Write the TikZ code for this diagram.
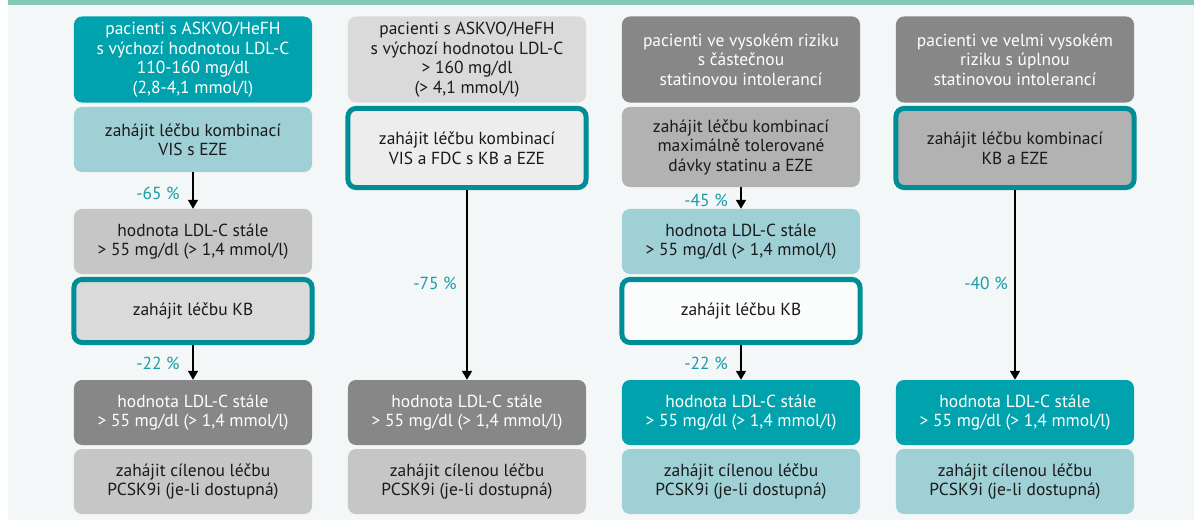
\documentclass[tikz,border=0pt]{standalone}
\usepackage{fontspec}
\setmainfont{PT Sans}
\usepackage{xcolor}
\usepackage{tikz}
\usetikzlibrary{arrows.meta,positioning}

\definecolor{topbar}{HTML}{85C8B8}
\definecolor{pagebg}{HTML}{F4F7F7}
\definecolor{tealdark}{HTML}{00A3AD}
\definecolor{teallight}{HTML}{9FD0D6}
\definecolor{tealline}{HTML}{008E96}
\definecolor{tealtext}{HTML}{1A9BA6}
\definecolor{graydark}{HTML}{878787}
\definecolor{graymid}{HTML}{B2B2B2}
\definecolor{graysoft}{HTML}{C6C6C6}
\definecolor{graylight}{HTML}{DADADA}
\definecolor{grayfaint}{HTML}{EDEDED}
\definecolor{inktext}{HTML}{1A1A1A}

\newcommand{\boxfont}{\fontsize{12.4}{13.9}\selectfont}

\begin{document}
\begin{tikzpicture}[
    x=0.025cm, y=-0.025cm,
    box/.style={rectangle, rounded corners=0.2cm, minimum width=5.95cm,
                align=center, inner sep=0pt, font=\boxfont, text=inktext},
    tall/.style={minimum height=2.15cm},
    mid/.style={minimum height=1.625cm},
    framed/.style={draw=tealline, line width=0.125cm},
    lighttxt/.style={text=white},
    arr/.style={-{Triangle[width=0.25cm,length=0.22cm]}, line width=0.85pt, draw=black},
    lbl/.style={font=\boxfont, text=tealtext, anchor=east, inner sep=0pt},
  ]

  % page
  \useasboundingbox (0,0) rectangle (1194,521);
  \fill[white] (0,0) rectangle (1194,521);
  \fill[pagebg] (8,5) rectangle (1194,520);
  \fill[topbar] (8,0) rectangle (1194,5);

  % Column 1
  \node[box, tall, fill=tealdark, lighttxt] (c1a) at (193, 59.5)
    {pacienti s ASKVO/HeFH\\s výchozí hodnotou LDL-C\\110-160 mg/dl\\(2,8-4,1 mmol/l)};
  \node[box, mid, fill=teallight] (c1b) at (193, 139.5) {zahájit léčbu kombinací\\VIS s EZE};
  \node[box, mid, fill=graysoft] (c1c) at (193, 241.5) {hodnota LDL-C stále\\> 55 mg/dl (> 1,4 mmol/l)};
  \node[box, framed, fill=graylight, minimum height=1.575cm] (c1d) at (193, 311) {zahájit léčbu KB};
  \node[box, mid, fill=graydark, lighttxt] (c1e) at (193, 412.5) {hodnota LDL-C stále\\> 55 mg/dl (> 1,4 mmol/l)};
  \node[box, mid, fill=graysoft] (c1f) at (193, 481.5) {zahájit cílenou léčbu\\PCSK9i (je-li dostupná)};

  % Column 2
  \node[box, tall, fill=graylight] (c2a) at (467, 59.5)
    {pacienti s ASKVO/HeFH\\s výchozí hodnotou LDL-C\\> 160 mg/dl\\(> 4,1 mmol/l)};
  \node[box, framed, fill=grayfaint, minimum height=1.975cm] (c2b) at (467, 148) {zahájit léčbu kombinací\\VIS a FDC s KB a EZE};
  \node[box, mid, fill=graydark, lighttxt] (c2e) at (467, 412.5) {hodnota LDL-C stále\\> 55 mg/dl (> 1,4 mmol/l)};
  \node[box, mid, fill=graysoft] (c2f) at (467, 481.5) {zahájit cílenou léčbu\\PCSK9i (je-li dostupná)};

  % Column 3
  \node[box, tall, fill=graydark, lighttxt] (c3a) at (741, 59.5)
    {pacienti ve vysokém riziku\\s částečnou\\statinovou intolerancí};
  \node[box, fill=graymid, minimum height=2cm] (c3b) at (741, 147)
    {zahájit léčbu kombinací\\maximálně tolerované\\dávky statinu a EZE};
  \node[box, mid, fill=teallight] (c3c) at (741, 241.5) {hodnota LDL-C stále\\> 55 mg/dl (> 1,4 mmol/l)};
  \node[box, framed, fill=white!60!pagebg, minimum height=1.575cm] (c3d) at (741, 311) {zahájit léčbu KB};
  \node[box, mid, fill=tealdark, lighttxt] (c3e) at (741, 412.5) {hodnota LDL-C stále\\> 55 mg/dl (> 1,4 mmol/l)};
  \node[box, mid, fill=teallight] (c3f) at (741, 481.5) {zahájit cílenou léčbu\\PCSK9i (je-li dostupná)};

  % Column 4
  \node[box, tall, fill=graydark, lighttxt] (c4a) at (1015, 59.5)
    {pacienti ve velmi vysokém\\riziku s úplnou\\statinovou intolerancí};
  \node[box, framed, fill=graymid, minimum height=1.975cm] (c4b) at (1015, 148) {zahájit léčbu kombinací\\KB a EZE};
  \node[box, mid, fill=tealdark, lighttxt] (c4e) at (1015, 412.5) {hodnota LDL-C stále\\> 55 mg/dl (> 1,4 mmol/l)};
  \node[box, mid, fill=teallight] (c4f) at (1015, 481.5) {zahájit cílenou léčbu\\PCSK9i (je-li dostupná)};

  % Arrows
  \draw[arr] (c1b.south) -- (c1c.north);
  \draw[arr] (c1d.south) -- (c1e.north);
  \draw[arr] (c2b.south) -- (c2e.north);
  \draw[arr] (c3b.south) -- (c3c.north);
  \draw[arr] (c3d.south) -- (c3e.north);
  \draw[arr] (c4b.south) -- (c4e.north);

  % Labels
  \node[lbl] (l1a) at (180, 193) {-65 \%};
  \node[lbl] (l1b) at (180, 363) {-22 \%};
  \node[lbl] (l2a) at (457, 283) {-75 \%};
  \node[lbl] (l3a) at (728, 200) {-45 \%};
  \node[lbl] (l3b) at (728, 363) {-22 \%};
  \node[lbl] (l4a) at (1008, 283) {-40 \%};

\end{tikzpicture}
\end{document}
